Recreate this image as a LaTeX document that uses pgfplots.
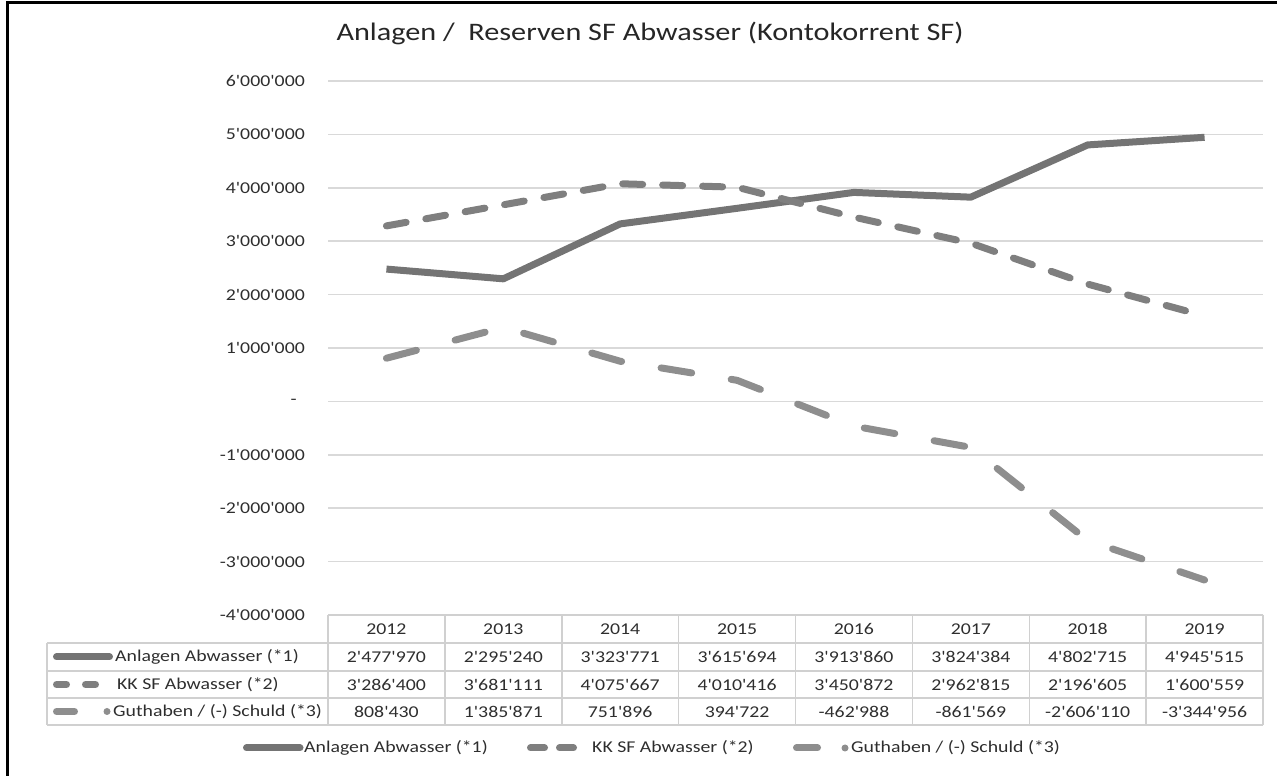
\documentclass[border=0pt]{standalone}
\usepackage{fontspec}
\setmainfont{Carlito}[FakeStretch=1.2, Ligatures=TeXOff]
\usepackage{pgfplots}
\pgfplotsset{compat=1.18}
\definecolor{cA}{HTML}{747474}
\definecolor{cB}{HTML}{7F7F7F}
\definecolor{cC}{HTML}{8E8E8E}
\definecolor{gridc}{HTML}{D9D9D9}
\definecolor{tabc}{HTML}{D0D0D0}
\definecolor{txt}{HTML}{2E2E2E}
\newcommand\sm{\fontsize{16.5}{19}\selectfont}
\begin{document}
\begin{tikzpicture}[x=1pt,y=1pt]
\useasboundingbox (0,0) rectangle (1277,776);
\begin{axis}[
  at={(328pt,161pt)}, anchor=south west,
  scale only axis, width=935pt, height=534pt,
  xmin=-0.5, xmax=7.5, ymin=-4000000, ymax=6000000,
  xtick=\empty,
  ytick={-4000000,-3000000,-2000000,-1000000,0,1000000,2000000,3000000,4000000,5000000,6000000},
  yticklabels={-4'000'000,-3'000'000,-2'000'000,-1'000'000,{-\hspace*{8pt}},1'000'000,2'000'000,3'000'000,4'000'000,5'000'000,6'000'000},
  ymajorgrids, grid style={gridc, line width=1.5pt},
  axis line style={draw=none},
  major tick length=0pt,
  yticklabel style={font=\sm, text=txt, anchor=east, inner sep=0pt, xshift=-23pt},
  scaled y ticks=false,
  clip=false,
]
\addplot[cA, line width=7pt, line join=round] coordinates {
 (0,2477970) (1,2295240) (2,3323771) (3,3615694) (4,3913860) (5,3824384) (6,4802715) (7,4945515)};
\addplot[cB, line width=7pt, line cap=round, line join=round, dash pattern=on 20pt off 20pt] coordinates {
 (0,3286400) (1,3681111) (2,4075667) (3,4010416) (4,3450872) (5,2962815) (6,2196605) (7,1600559)};
\addplot[cC, line width=7pt, line cap=round, line join=round, dash pattern=on 31pt off 40pt] coordinates {
 (0,808430) (1,1385871) (2,751896) (3,394722) (4,-462988) (5,-861569) (6,-2606110) (7,-3344956)};
\end{axis}
% title
\node[font=\fontsize{25.2}{29}\selectfont, text=black!85] at (650,743) {Anlagen /\ \ Reserven SF Abwasser (Kontokorrent SF)};
% table grid
\begin{scope}[tabc, line width=1.5pt]
 \draw (328,161) -- (1263,161);
 \draw (47,133) -- (1263,133);
 \draw (47,105) -- (1263,105);
 \draw (47,78) -- (1263,78);
 \draw (47,51) -- (1263,51);
 \draw (47,133) -- (47,51);
 \foreach \i in {0,...,8} \draw ({328+\i*116.875},161) -- ({328+\i*116.875},51);
\end{scope}
% header
\foreach \yr [count=\i from 0] in {2012,2013,2014,2015,2016,2017,2018,2019}
  \node[font=\sm, text=txt] at ({386.4375+\i*116.875},147) {\yr};
% rows
\foreach \v [count=\i from 0] in {2'477'970,2'295'240,3'323'771,3'615'694,3'913'860,3'824'384,4'802'715,4'945'515}
  \node[font=\sm, text=txt] at ({386.4375+\i*116.875},119) {\v};
\foreach \v [count=\i from 0] in {3'286'400,3'681'111,4'075'667,4'010'416,3'450'872,2'962'815,2'196'605,1'600'559}
  \node[font=\sm, text=txt] at ({386.4375+\i*116.875},91.5) {\v};
\foreach \v [count=\i from 0] in {808'430,1'385'871,751'896,394'722,-462'988,-861'569,-2'606'110,-3'344'956}
  \node[font=\sm, text=txt] at ({386.4375+\i*116.875},64.5) {\v};
% row labels
\draw[cA, line width=7pt, line cap=round] (56.5,119) -- (109.5,119);
\node[font=\sm, text=txt, anchor=west, inner sep=0pt] at (115,119) {Anlagen Abwasser (*1)};
\draw[cB, line width=7pt, line cap=round, dash pattern=on 10pt off 19pt] (56.5,91.5) -- (95.5,91.5);
\node[font=\sm, text=txt, anchor=west, inner sep=0pt] at (117,91.5) {KK SF Abwasser (*2)};
\draw[cC, line width=7pt, line cap=round] (56.5,64.5) -- (74.5,64.5);
\fill[cC] (107,64.5) circle (3.5);
\node[font=\sm, text=txt, anchor=west, inner sep=0pt] at (113,64.5) {Guthaben / (-) Schuld (*3)};
% legend
\draw[cA, line width=7pt, line cap=round] (246.5,28) -- (300,28);
\node[font=\sm, text=txt, anchor=west, inner sep=0pt] at (304,28) {Anlagen Abwasser (*1)};
\draw[cB, line width=7pt, line cap=round, dash pattern=on 14pt off 15pt] (530.5,28) -- (574.5,28);
\node[font=\sm, text=txt, anchor=west, inner sep=0pt] at (592,28) {KK SF Abwasser (*2)};
\draw[cC, line width=7pt, line cap=round] (796.5,28) -- (817.5,28);
\fill[cC] (845,28) circle (3.5);
\node[font=\sm, text=txt, anchor=west, inner sep=0pt] at (851,28) {Guthaben / (-) Schuld (*3)};
% frame
\draw[black, line width=3pt] (7.5,0) -- (7.5,773.5) -- (1277,773.5);
\end{tikzpicture}
\end{document}
